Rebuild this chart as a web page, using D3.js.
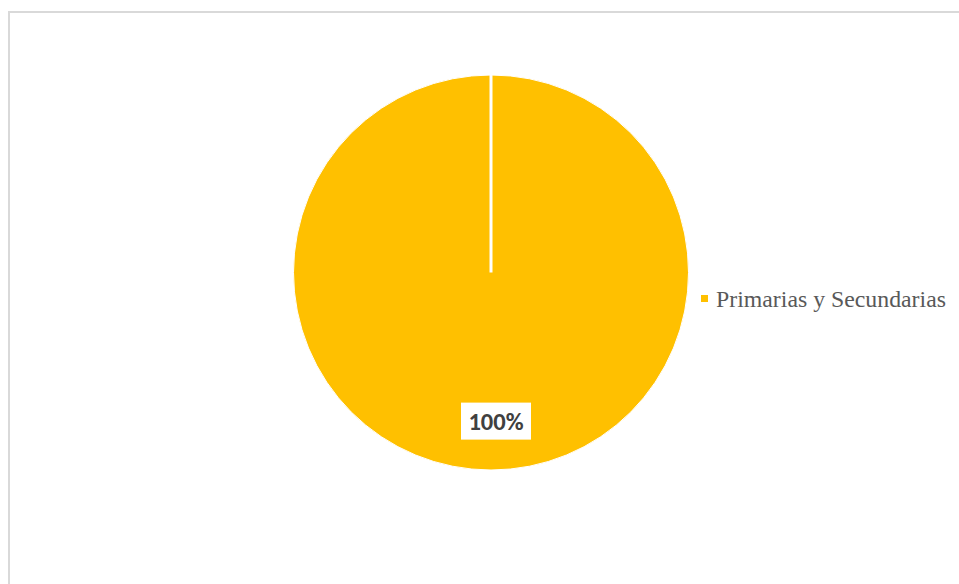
<!DOCTYPE html>
<html>
<head>
<meta charset="utf-8">
<script src="https://cdn.jsdelivr.net/npm/d3@7"></script>
<style>
  html, body { margin: 0; padding: 0; background: #fff; }
  svg { display: block; }
</style>
</head>
<body>
<div id="chart"></div>
<script>
const categories = ['Primarias y Secundarias'];
const values = [100];
const colors = ['#ffc000'];

const width = 959;
const height = 584;
const cx = 491;
const cy = 272.5;
const radius = 197.5;

const svg = d3.select('#chart')
  .append('svg')
  .attr('width', width)
  .attr('height', height);

// chart area border
svg.append('rect')
  .attr('x', 9)
  .attr('y', 12)
  .attr('width', width + 10)
  .attr('height', height + 10)
  .attr('fill', 'none')
  .attr('stroke', '#d9d9d9')
  .attr('stroke-width', 2);

const data = categories.map((c, i) => ({ name: c, value: values[i], color: colors[i] }));

const pie = d3.pie().value(d => d.value).sort(null);
const arcs = pie(data);
const arc = d3.arc().innerRadius(0).outerRadius(radius);
const labelArc = d3.arc().innerRadius(radius * 0.755).outerRadius(radius * 0.755);

const g = svg.append('g').attr('transform', `translate(${cx},${cy})`);

g.selectAll('path.slice')
  .data(arcs)
  .join('path')
  .attr('class', 'slice')
  .attr('d', arc)
  .attr('fill', d => d.data.color);

// slice boundaries (white separators)
g.selectAll('line.sep')
  .data(arcs)
  .join('line')
  .attr('class', 'sep')
  .attr('x1', 0)
  .attr('y1', 0)
  .attr('x2', d => radius * Math.sin(d.startAngle))
  .attr('y2', d => -radius * Math.cos(d.startAngle))
  .attr('stroke', '#fff')
  .attr('stroke-width', 3);

g.selectAll('path.slice-edge')
  .data(arcs)
  .join('path')
  .attr('class', 'slice-edge')
  .attr('d', arc)
  .attr('fill', 'none')
  .attr('stroke', '#fff')
  .attr('stroke-width', 1);

// data labels
const total = d3.sum(values);
const labels = g.selectAll('g.label')
  .data(arcs)
  .join('g')
  .attr('class', 'label')
  .attr('transform', d => {
    const [x, y] = labelArc.centroid(d);
    return `translate(${x + 5},${y})`;
  });

labels.append('rect')
  .attr('x', -35)
  .attr('y', -19)
  .attr('width', 70)
  .attr('height', 37)
  .attr('fill', '#fff');

labels.append('text')
  .attr('text-anchor', 'middle')
  .attr('dy', '0.35em')
  .attr('font-family', 'Carlito, "Open Sans", sans-serif')
  .attr('font-weight', 'bold')
  .attr('font-size', 24.5)
  .attr('fill', '#404040')
  .text(d => Math.round(d.data.value / total * 100) + '%');

// legend
const legend = svg.append('g')
  .attr('transform', 'translate(701,299)');

const items = legend.selectAll('g')
  .data(data)
  .join('g')
  .attr('transform', (d, i) => `translate(0,${i * 28})`);

items.append('rect')
  .attr('x', 0)
  .attr('y', -4)
  .attr('width', 7)
  .attr('height', 7)
  .attr('fill', d => d.color);

items.append('text')
  .attr('x', 15)
  .attr('y', 0)
  .attr('dy', '0.35em')
  .attr('font-family', '"Liberation Serif", "Times New Roman", serif')
  .attr('font-size', 23.8)
  .attr('fill', '#595959')
  .text(d => d.name);
</script>
</body>
</html>
